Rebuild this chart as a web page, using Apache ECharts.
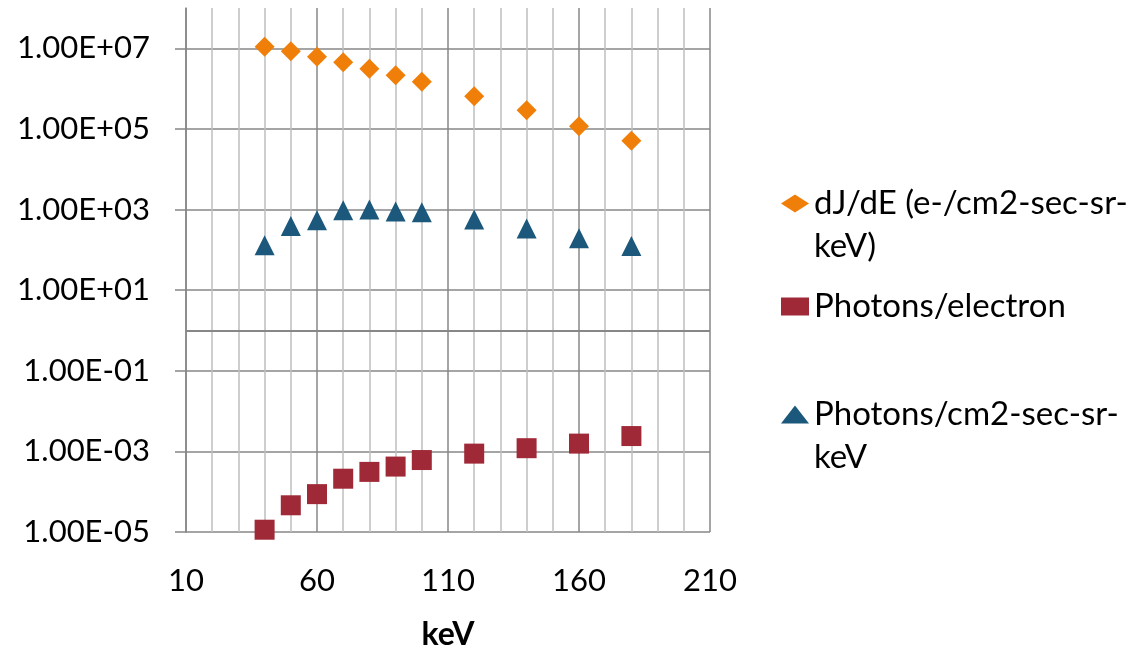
<!DOCTYPE html>
<html>
<head>
<meta charset="utf-8">
<script src="https://cdn.jsdelivr.net/npm/echarts@6/dist/echarts.min.js"></script>
<style>
  html, body { margin: 0; padding: 0; background: #fff; }
  #chart { width: 1138px; height: 647px; }
</style>
</head>
<body>
<div id="chart"></div>
<script>
// energies (keV)
const keV = [40, 50, 60, 70, 80, 90, 100, 120, 140, 160, 180];
// dJ/dE (e-/cm2-sec-sr-keV)
const electronFlux = [1.1e7, 8.5e6, 6.2e6, 4.5e6, 3.1e6, 2.15e6, 1.47e6, 6.5e5, 2.9e5, 1.17e5, 5.1e4];
// Photons/electron
const photonsPerElectron = [1.14e-5, 4.6e-5, 8.7e-5, 2.1e-4, 3.1e-4, 4.2e-4, 6.1e-4, 8.8e-4, 1.2e-3, 1.56e-3, 2.4e-3];
// Photons/cm2-sec-sr-keV
const photonFlux = [130, 390, 545, 960, 1000, 890, 860, 570, 340, 195, 125];

const seriesNames = ['dJ/dE (e-/cm2-sec-sr-\nkeV)', 'Photons/electron', 'Photons/cm2-sec-sr-\nkeV'];
const xAxisCrossAt = 1; // horizontal axis crosses the log axis here

const FONT = 'Lato';
const GRID_DARK = '#878787';
const GRID_LIGHT = '#bfbfbf';

function pairs(ys) {
  return keV.map((x, i) => [x, ys[i]]);
}

// 1.00E+07 style labels
function sci(v) {
  const e = Math.round(Math.log10(v));
  return '1.00E' + (e < 0 ? '-' : '+') + String(Math.abs(e)).padStart(2, '0');
}

// empty first line so the marker sits beside the first line of a wrapped name
function firstLineAligned(name) {
  return '\n' + name;
}

const chart = echarts.init(document.getElementById('chart'));

const legendText = {
  fontFamily: FONT,
  fontSize: 33,
  color: '#000',
  lineHeight: 43
};

const option = {
  animation: false,
  textStyle: { fontFamily: FONT },
  grid: { left: 186, right: 428, top: 8, bottom: 115, outerBoundsMode: 'none' },
  xAxis: {
    type: 'value',
    min: 10,
    max: 210,
    interval: 50,
    name: 'keV',
    nameLocation: 'middle',
    nameGap: 87,
    nameTextStyle: { fontFamily: FONT, fontSize: 32, fontWeight: 'bold', color: '#000' },
    axisLine: { show: false },
    axisTick: { show: false },
    axisLabel: { fontSize: 31, color: '#000', margin: 33 },
    splitLine: { show: true, lineStyle: { color: GRID_DARK, width: 1.5 } },
    minorTick: { show: false, splitNumber: 5 },
    minorSplitLine: { show: true, lineStyle: { color: GRID_LIGHT, width: 1.5 } }
  },
  yAxis: {
    type: 'log',
    logBase: 10,
    min: 1e-5,
    max: 1e8,
    interval: 2,
    axisLine: { show: true, lineStyle: { color: GRID_DARK, width: 1.5 } },
    axisTick: { show: true, length: 11, lineStyle: { color: GRID_DARK, width: 1.5 } },
    axisLabel: {
      fontSize: 31,
      color: '#000',
      margin: 36,
      showMaxLabel: false,
      formatter: sci
    },
    splitLine: { show: true, showMaxLine: false, lineStyle: { color: GRID_DARK, width: 1.5 } }
  },
  legend: [
    {
      data: [seriesNames[0]], left: 781, top: 139, padding: 0,
      itemWidth: 28, itemHeight: 18, formatter: firstLineAligned, textStyle: legendText
    },
    {
      data: [seriesNames[1]], left: 781, top: 285, padding: 0,
      itemWidth: 28, itemHeight: 18, textStyle: legendText
    },
    {
      data: [seriesNames[2]], left: 781, top: 350, padding: 0,
      itemWidth: 28, itemHeight: 18, formatter: firstLineAligned, textStyle: legendText
    }
  ],
  series: [
    {
      name: seriesNames[0],
      type: 'scatter',
      symbol: 'diamond',
      symbolSize: 20,
      itemStyle: { color: '#F07F09', opacity: 1 },
      data: pairs(electronFlux),
      z: 3
    },
    {
      name: seriesNames[1],
      type: 'scatter',
      symbol: 'rect',
      symbolSize: 20,
      itemStyle: { color: '#9F2936', opacity: 1 },
      data: pairs(photonsPerElectron),
      z: 3,
      markLine: {
        silent: true,
        symbol: 'none',
        label: { show: false },
        lineStyle: { color: GRID_DARK, width: 2, type: 'solid' },
        data: [{ yAxis: xAxisCrossAt }],
        z: 2
      }
    },
    {
      name: seriesNames[2],
      type: 'scatter',
      symbol: 'triangle',
      symbolSize: 20,
      itemStyle: { color: '#1B587C', opacity: 1 },
      data: pairs(photonFlux),
      z: 3
    }
  ]
};

chart.setOption(option);
</script>
</body>
</html>
